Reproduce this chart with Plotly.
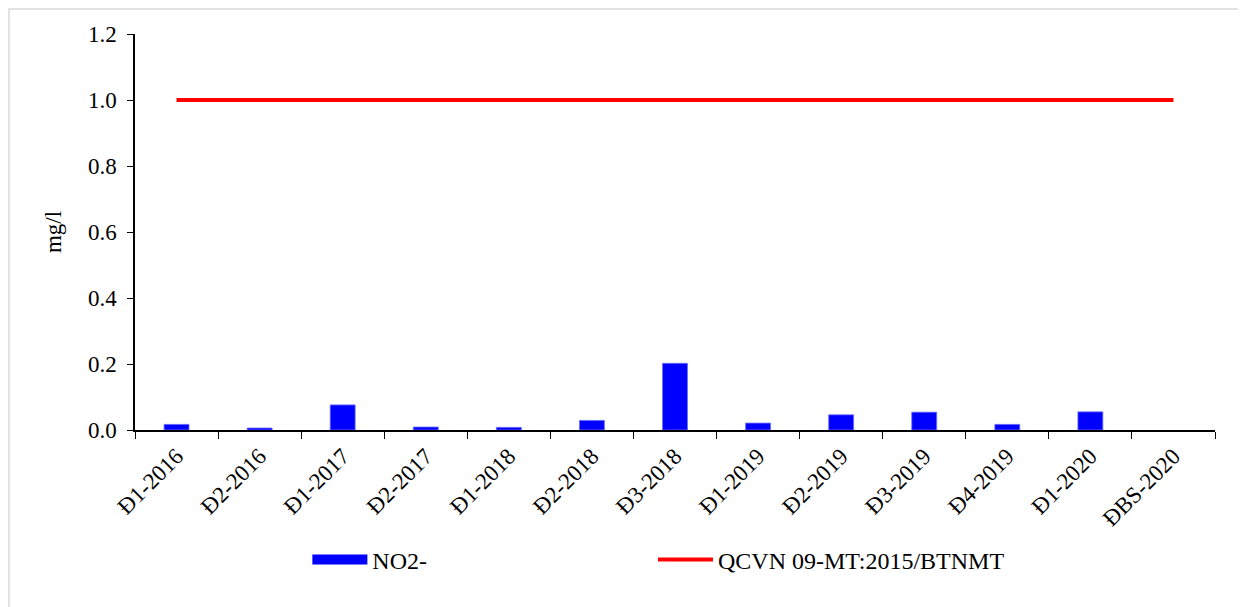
import plotly.graph_objects as go

categories = ["Đ1-2016", "Đ2-2016", "Đ1-2017", "Đ2-2017", "Đ1-2018", "Đ2-2018", "Đ3-2018",
              "Đ1-2019", "Đ2-2019", "Đ3-2019", "Đ4-2019", "Đ1-2020", "ĐBS-2020"]
no2_values = [0.017, 0.006, 0.076, 0.009, 0.008, 0.029, 0.202,
              0.021, 0.046, 0.054, 0.017, 0.055, None]
qcvn_values = [1.0] * len(categories)
y_ticks = [0.0, 0.2, 0.4, 0.6, 0.8, 1.0, 1.2]

# figure sits at an 8px body offset in the page
W, H = 1238, 599
L, R, T, B = 127, 1207, 26, 422
FONT = "Liberation Serif, Times New Roman, serif"
BLUE = "#0000FF"
RED = "#FF0000"

fig = go.Figure()
fig.add_trace(go.Bar(
    x=categories, y=no2_values, name="NO2-",
    marker=dict(color=BLUE, line=dict(color="#6a6aff", width=0.8)),
    width=0.3, legendgroup="no2", showlegend=False,
))
# legend entry for the bars (wide rectangle symbol, like the original)
fig.add_trace(go.Scatter(
    x=[None], y=[None], name="NO2-", mode="lines",
    line=dict(color=BLUE, width=13), legendgroup="no2", showlegend=True,
    legend="legend",
))
fig.add_trace(go.Scatter(
    x=categories, y=qcvn_values, name="QCVN 09-MT:2015/BTNMT",
    mode="lines", line=dict(color=RED, width=4), legend="legend2",
))

legend_common = dict(
    orientation="h", yanchor="middle", xanchor="left", y=-0.328,
    font=dict(family=FONT, size=24, color="black"),
    itemwidth=55, bgcolor="rgba(0,0,0,0)",
)

fig.update_layout(
    width=W, height=H,
    margin=dict(l=L, r=W - R, t=T, b=H - B, pad=0),
    paper_bgcolor="white", plot_bgcolor="white",
    font=dict(family=FONT, size=23, color="black"),
    showlegend=True,
    legend=dict(x=0.1596, **legend_common),
    legend2=dict(x=0.4796, **legend_common),
    shapes=[dict(
        type="rect", xref="paper", yref="paper",
        x0=(1 - L) / (R - L), x1=(1300 - L) / (R - L),
        y0=(B - 700) / (B - T), y1=1 + (T - 1) / (B - T),
        line=dict(color="#d9d9d9", width=1.5), fillcolor="rgba(0,0,0,0)", layer="below",
    )],
)
fig.update_xaxes(
    type="category", showline=True, linecolor="black", linewidth=1.5,
    ticks="outside", ticklen=7, tickcolor="black", tickwidth=1.2,
    tickson="boundaries", tickangle=-45, showgrid=False, zeroline=False,
    ticklabelstandoff=2,
    tickfont=dict(family=FONT, size=23, color="black"),
)
fig.update_yaxes(
    range=[0, 1.2], tickvals=y_ticks, tickformat=".1f",
    showline=True, linecolor="black", linewidth=1.5,
    ticks="outside", ticklen=6, tickcolor="black", tickwidth=1.2,
    showgrid=False, zeroline=False, ticklabelstandoff=6,
    tickfont=dict(family=FONT, size=23, color="black"),
    title=dict(text="mg/l", font=dict(family=FONT, size=23, color="black"), standoff=20),
)

fig.write_html("out.html")
